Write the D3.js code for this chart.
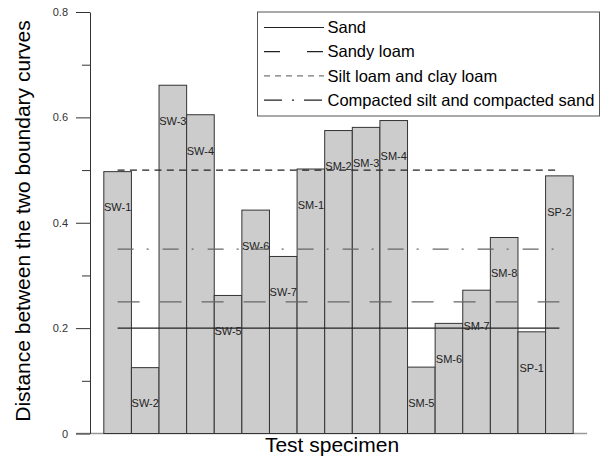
<!DOCTYPE html>
<html>
<head>
<meta charset="utf-8">
<script src="https://cdn.jsdelivr.net/npm/d3@7"></script>
<style>
  body { margin: 0; background: #fff; }
  svg { font-family: Arial, "Liberation Sans", sans-serif; }
</style>
</head>
<body>
<div id="chart"></div>
<script>
// specimens and distance values
const specimens = ['SW-1', 'SW-2', 'SW-3', 'SW-4', 'SW-5', 'SW-6', 'SW-7',
  'SM-1', 'SM-2', 'SM-3', 'SM-4', 'SM-5', 'SM-6', 'SM-7', 'SM-8', 'SP-1', 'SP-2'];
const distances = [0.497, 0.125, 0.661, 0.605, 0.262, 0.424, 0.336,
  0.502, 0.575, 0.581, 0.594, 0.126, 0.209, 0.272, 0.372, 0.193, 0.489];

// reference lines (soil types)
const soilNames = ['Sand', 'Sandy loam', 'Silt loam and clay loam', 'Compacted silt and compacted sand'];
const soilValues = [0.2, 0.25, 0.5, 0.35];

const majorTicks = [0, 0.2, 0.4, 0.6, 0.8];
const minorTicks = [0.1, 0.3, 0.5, 0.7];

const dashes = ['none', '22,20', '7,5.3', '16,13,2,14'];
const lineColors = ['#222', '#666', '#222', '#666'];

const width = 615, height = 459;
const svg = d3.select('#chart').append('svg')
  .attr('width', width)
  .attr('height', height);

// scales: bars sit at 1..17 on a 0..18 axis
const x = d3.scaleLinear().domain([0, 18]).range([90, 587]);
const y = d3.scaleLinear().domain([0, 0.8]).range([433.5, 12]);
const barW = x(1) - x(0);

// x axis line
svg.append('line')
  .attr('x1', x(0) - 14).attr('x2', x(18))
  .attr('y1', y(0)).attr('y2', y(0))
  .attr('stroke', '#999').attr('stroke-width', 1.5);

// bars
svg.selectAll('rect.bar')
  .data(distances)
  .enter()
  .append('rect')
  .attr('class', 'bar')
  .attr('x', (d, i) => x(i + 1) - barW / 2)
  .attr('y', (d) => y(d))
  .attr('width', barW)
  .attr('height', (d) => y(0) - y(d))
  .attr('fill', '#cccccc')
  .attr('stroke', '#333')
  .attr('stroke-width', 1);

// bar labels
svg.selectAll('text.lbl')
  .data(distances)
  .enter()
  .append('text')
  .attr('class', 'lbl')
  .attr('x', (d, i) => x(i + 1))
  .attr('y', (d) => y(d) + 36)
  .attr('dy', '0.35em')
  .attr('text-anchor', 'middle')
  .attr('font-size', 11)
  .attr('fill', '#222')
  .text((d, i) => specimens[i]);

// reference lines
svg.selectAll('line.ref')
  .data(soilValues)
  .enter()
  .append('line')
  .attr('class', 'ref')
  .attr('x1', x(1)).attr('x2', x(17))
  .attr('y1', (d) => y(d)).attr('y2', (d) => y(d))
  .attr('stroke', (d, i) => lineColors[i])
  .attr('stroke-width', 1.2)
  .attr('stroke-dasharray', (d, i) => dashes[i]);

// y axis
const yAxis = svg.append('g')
  .attr('transform', `translate(${x(0)},0)`)
  .call(d3.axisLeft(y).tickValues(majorTicks).tickSize(14).tickSizeOuter(0)
    .tickPadding(8).tickFormat((d) => d === 0 ? '0' : d3.format('.1f')(d)));
yAxis.select('.domain').attr('stroke', '#333');
yAxis.selectAll('line').attr('stroke', '#333');
yAxis.selectAll('text').attr('font-size', 11).attr('fill', '#333')
  .attr('font-family', 'Arial, "Liberation Sans", sans-serif');

const yMinor = svg.append('g')
  .attr('transform', `translate(${x(0)},0)`)
  .call(d3.axisLeft(y).tickValues(minorTicks).tickSize(8).tickSizeOuter(0).tickFormat(''));
yMinor.select('.domain').remove();
yMinor.selectAll('line').attr('stroke', '#333');

// axis titles
svg.append('text')
  .attr('transform', `translate(30,221) rotate(-90)`)
  .attr('text-anchor', 'middle')
  .attr('font-size', 21)
  .attr('fill', '#000')
  .text('Distance between the two boundary curves');

svg.append('text')
  .attr('x', 332).attr('y', 452)
  .attr('text-anchor', 'middle')
  .attr('font-size', 21)
  .attr('fill', '#000')
  .text('Test specimen');

// legend
const legend = svg.append('g');
legend.append('rect')
  .attr('x', 257.5).attr('y', 12)
  .attr('width', 342).attr('height', 104)
  .attr('fill', '#fff')
  .attr('stroke', '#555');

const rows = legend.selectAll('g.row')
  .data(soilNames)
  .enter()
  .append('g')
  .attr('class', 'row')
  .attr('transform', (d, i) => `translate(0,${27.5 + i * 24.2})`);

rows.append('line')
  .attr('x1', 264).attr('x2', 324)
  .attr('y1', 0).attr('y2', 0)
  .attr('stroke', (d, i) => i === 2 ? '#777' : '#222')
  .attr('stroke-width', 1.2)
  .attr('stroke-dasharray', (d, i) => ['none', '16,27', '6,5', '18,10,2,10'][i]);

rows.append('text')
  .attr('x', 327.5).attr('y', 0)
  .attr('dy', '0.35em')
  .attr('font-size', 16.5)
  .attr('fill', '#000')
  .text((d) => d);
</script>
</body>
</html>
